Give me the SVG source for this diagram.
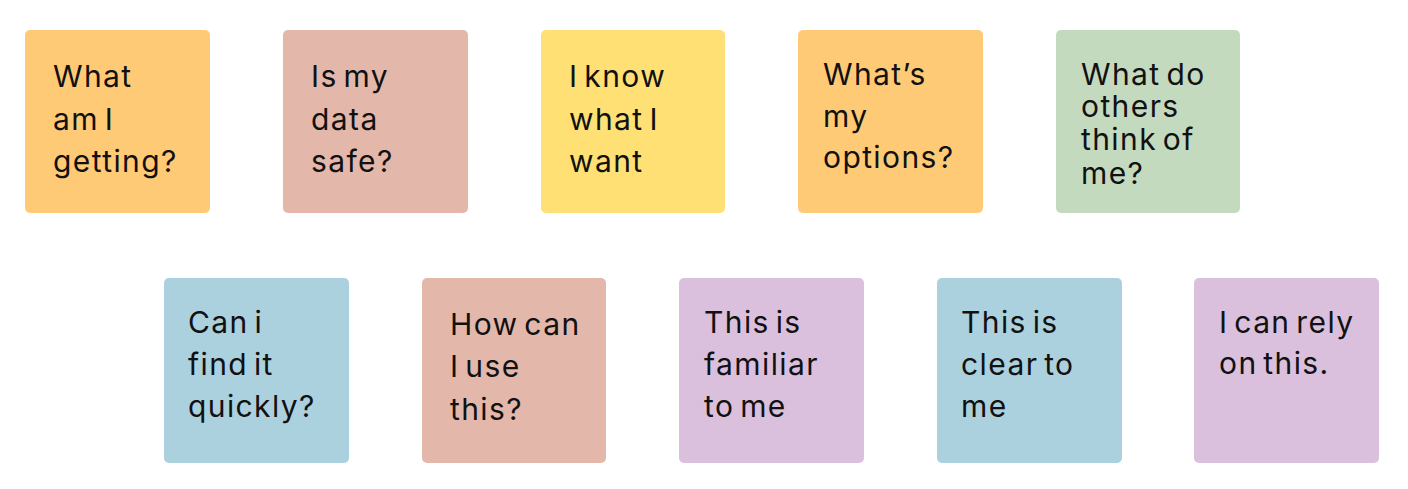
<svg xmlns="http://www.w3.org/2000/svg" width="1408" height="489" viewBox="0 0 1408 489">
<style>
rect.n{rx:5px;ry:5px}
.o{fill:#FFCA76}
.p{fill:#E4B7AB}
.y{fill:#FFE075}
.g{fill:#C3DABF}
.b{fill:#ABD0DE}
.v{fill:#DBC0DE}
text{font-family:Inter,"Open Sans","Liberation Sans",sans-serif;font-size:30px;fill:#111;letter-spacing:1.4px;word-spacing:-4px}
</style>
<rect width="1408" height="489" fill="#fff"/>
<g id="n1"><rect class="n o" x="25" y="30" width="185" height="183"/><text x="53"><tspan x="53" y="87">What</tspan><tspan x="53" y="130">am I</tspan><tspan x="53" y="172">getting?</tspan></text></g>
<g id="n2"><rect class="n p" x="283" y="30" width="185" height="183"/><text><tspan x="311" y="87">Is my</tspan><tspan x="311" y="130">data</tspan><tspan x="311" y="172">safe?</tspan></text></g>
<g id="n3"><rect class="n y" x="541" y="30" width="184" height="183"/><text><tspan x="569" y="87">I know</tspan><tspan x="569" y="130">what I</tspan><tspan x="569" y="172">want</tspan></text></g>
<g id="n4"><rect class="n o" x="798" y="30" width="185" height="183"/><text><tspan x="823" y="85">What’s</tspan><tspan x="823" y="127">my</tspan><tspan x="823" y="168">options?</tspan></text></g>
<g id="n5"><rect class="n g" x="1056" y="30" width="184" height="183"/><text><tspan x="1081" y="85">What do</tspan><tspan x="1081" y="117">others</tspan><tspan x="1081" y="150">think of</tspan><tspan x="1081" y="184">me?</tspan></text></g>
<g id="n6"><rect class="n b" x="164" y="278" width="185" height="185"/><text><tspan x="188" y="333">Can i</tspan><tspan x="188" y="375">find it</tspan><tspan x="188" y="417">quickly?</tspan></text></g>
<g id="n7"><rect class="n p" x="422" y="278" width="184" height="185"/><text><tspan x="450" y="335">How can</tspan><tspan x="450" y="377">I use</tspan><tspan x="450" y="420">this?</tspan></text></g>
<g id="n8"><rect class="n v" x="679" y="278" width="185" height="185"/><text><tspan x="704" y="333">This is</tspan><tspan x="704" y="375">familiar</tspan><tspan x="704" y="417">to me</tspan></text></g>
<g id="n9"><rect class="n b" x="937" y="278" width="185" height="185"/><text><tspan x="961" y="333">This is</tspan><tspan x="961" y="375">clear to</tspan><tspan x="961" y="417">me</tspan></text></g>
<g id="n10"><rect class="n v" x="1194" y="278" width="185" height="185"/><text><tspan x="1219" y="333">I can rely</tspan><tspan x="1219" y="374">on this.</tspan></text></g>
<g id="connectors"/>
</svg>
